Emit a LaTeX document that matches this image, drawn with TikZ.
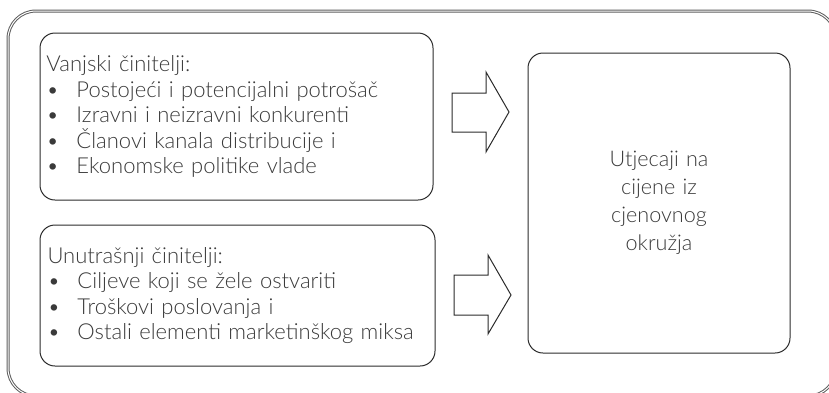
\documentclass[tikz,border=0pt]{standalone}
\usepackage{fontspec}
\setmainfont{Lato}[UprightFont={* Light}]
\usepackage{tikz}
\usepackage{xcolor}
\definecolor{boxLine}{HTML}{2B2B2B}
\definecolor{frameLine}{HTML}{5E5E5E}
\definecolor{textInk}{HTML}{3A3A3A}

\tikzset{
  factorBox/.style={draw=boxLine, line width=0.5pt, rounded corners=7.5pt, align=left,
    inner xsep=3pt, inner ysep=0pt, text width=190pt, text=textInk,
    font=\fontsize{11}{12.75}\selectfont},
  resultBox/.style={draw=boxLine, line width=0.5pt, rounded corners=7.5pt, align=center,
    inner sep=0pt, text width=120pt, text=textInk,
    font=\fontsize{10.8}{14}\selectfont},
  blockArrow/.style={draw=boxLine, line width=0.5pt, fill=white}
}
\newcommand{\bul}{\makebox[15pt][l]{•}}

\begin{document}
\begin{tikzpicture}[x=0.5pt, y=-0.5pt]
  \useasboundingbox (0,0) rectangle (829,392);
  \draw[frameLine, line width=0.5pt, double=white, double distance=0.5pt, rounded corners=14pt] (8,11) rectangle (836,396);
  \node[factorBox, minimum width=196.5pt, minimum height=83.5pt] (outer) at (236.5,116.5)
    {Vanjski činitelji:\\ \bul Postojeći i potencijalni potrošač\\ \bul Izravni i neizravni konkurenti\\ \bul Članovi kanala distribucije i\\ \bul Ekonomske politike vlade};
  \node[factorBox, minimum width=197.5pt, minimum height=70.5pt] (inner) at (237.5,295.5)
    {Unutrašnji činitelji:\\ \bul Ciljeve koji se žele ostvariti\\ \bul Troškovi poslovanja i\\ \bul Ostali elementi marketinškog miksa};
  \node[resultBox, minimum width=131pt, minimum height=150pt] (result) at (659,203)
    {Utjecaji na\\ cijene iz\\ cjenovnog\\ okružja};
  \draw[blockArrow] (452,93) -- (486,93) -- (486,72) -- (509,112) -- (486,152) -- (486,132) -- (452,132) -- cycle;
  \draw[blockArrow] (454,275) -- (488,275) -- (488,255) -- (511,295) -- (488,334) -- (488,315) -- (454,315) -- cycle;
\end{tikzpicture}
\end{document}
